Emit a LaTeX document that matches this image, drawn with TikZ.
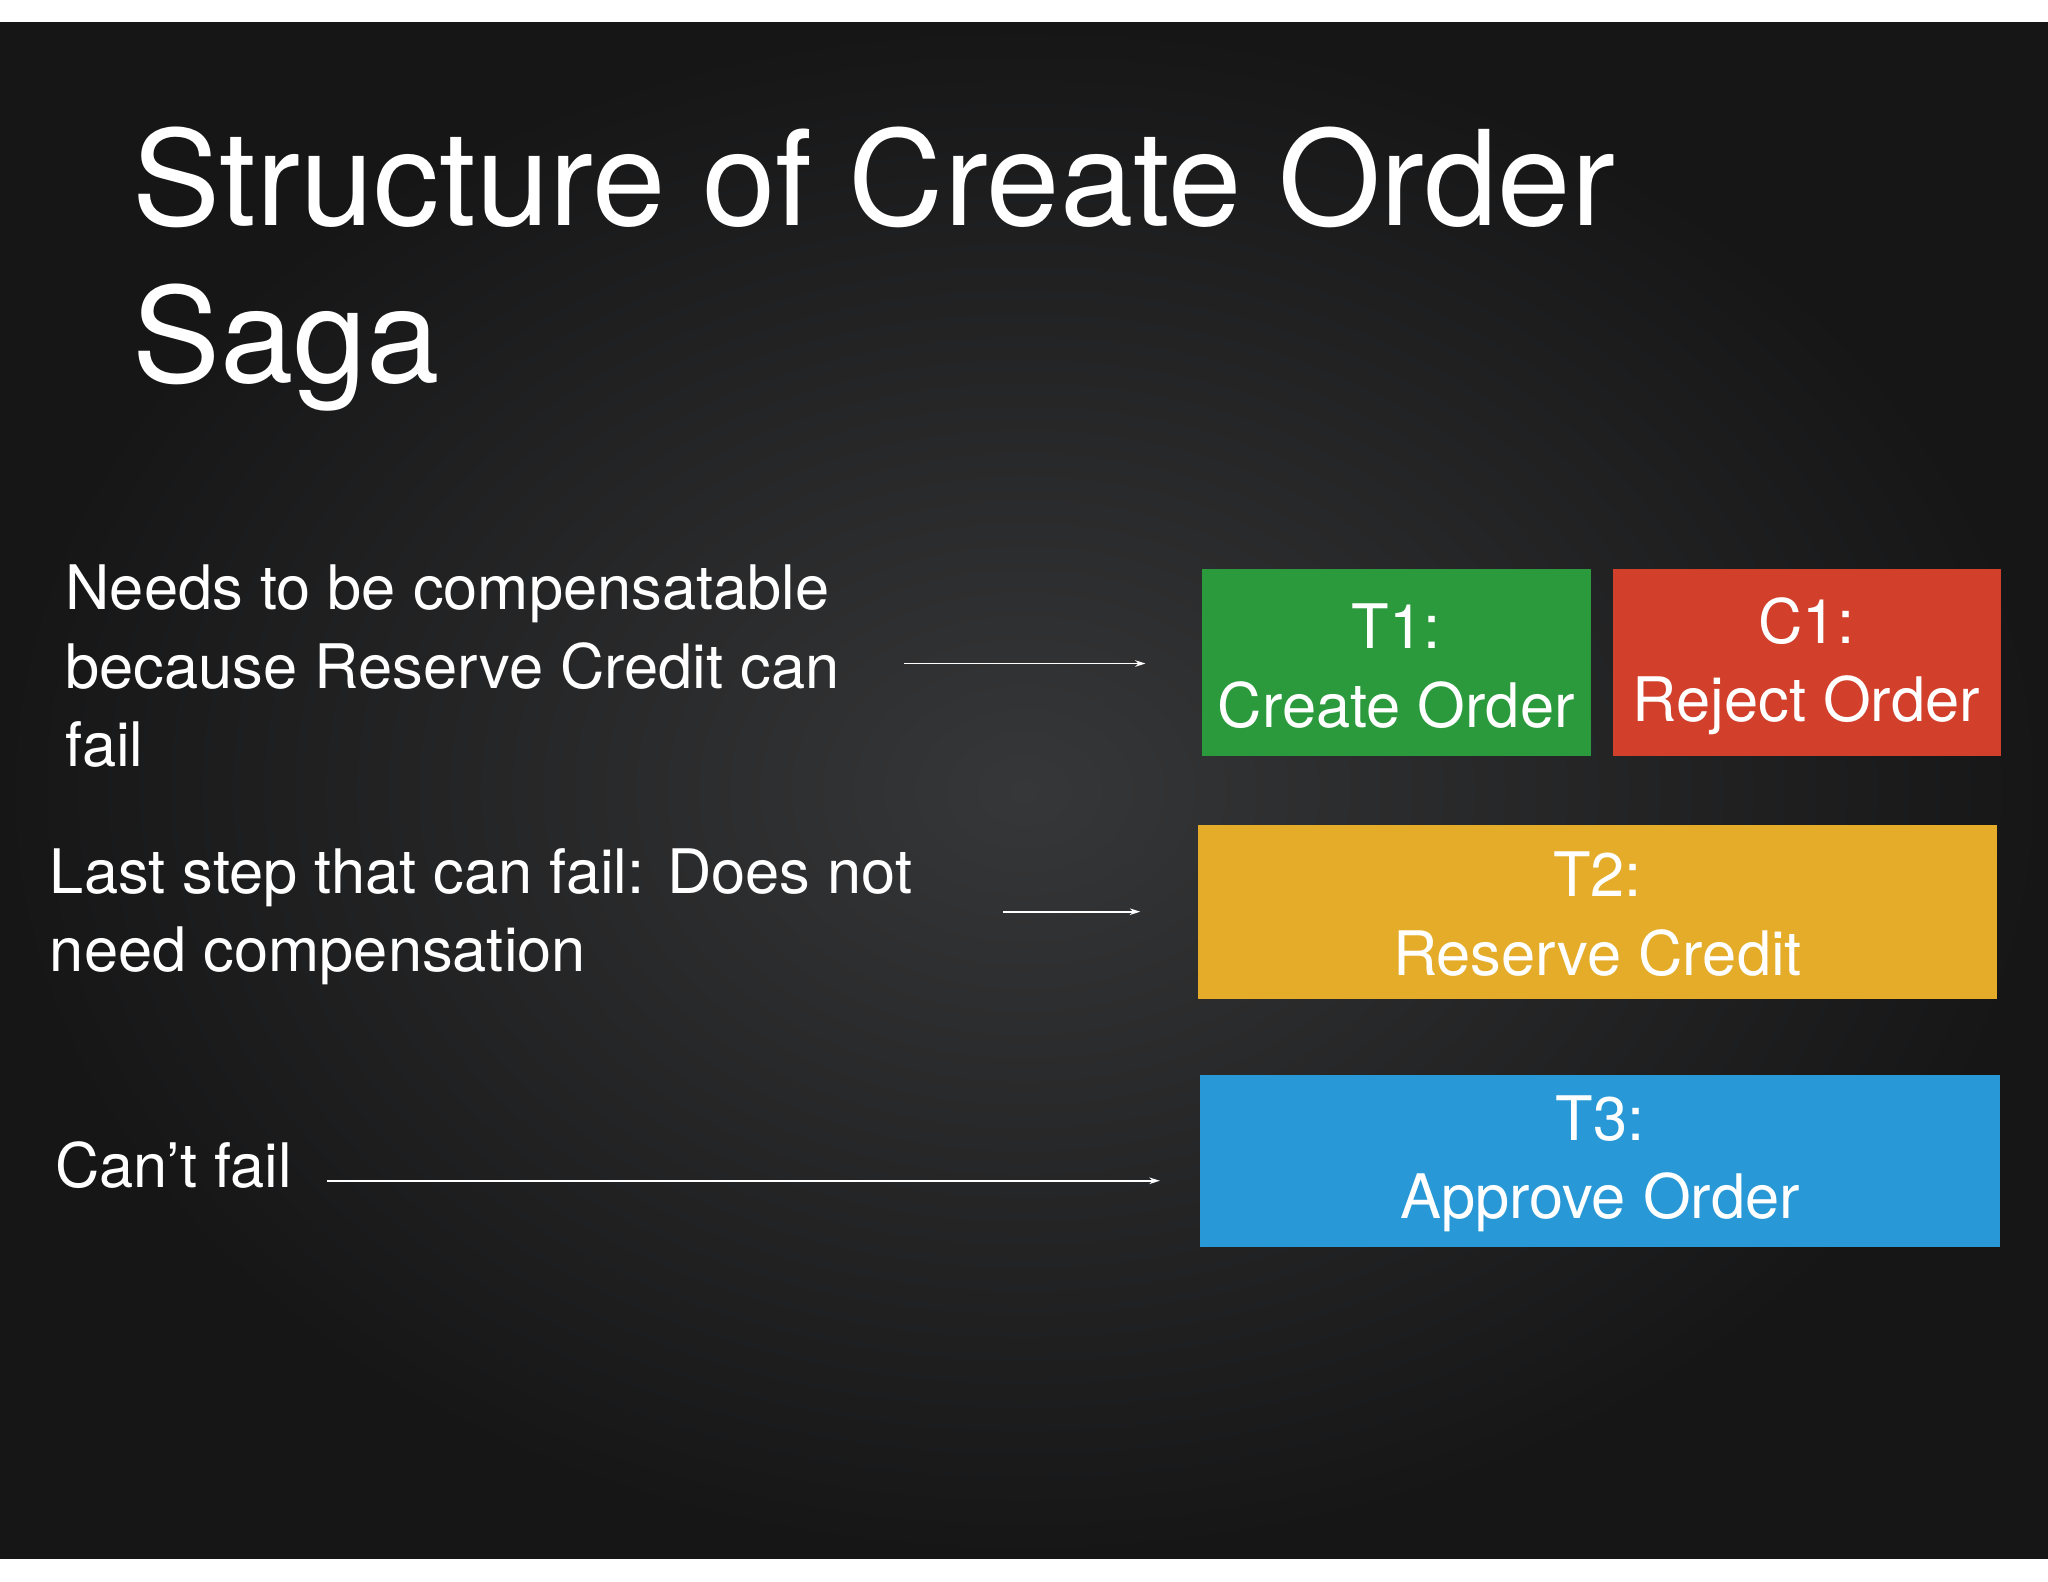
\documentclass[tikz,border=0pt]{standalone}
\usepackage{fontspec}
\setmainfont{TeX Gyre Heros}
\usetikzlibrary{arrows.meta}
\definecolor{bgin}{HTML}{363738}
\definecolor{bgout}{HTML}{161617}
\definecolor{cgreen}{HTML}{2A9A3C}
\definecolor{cred}{HTML}{D2402C}
\definecolor{cyellow}{HTML}{E4AC28}
\definecolor{cblue}{HTML}{2899D6}
\tikzset{
  box/.style={draw=none, minimum height=#1, text=white, font=\fontsize{47}{60}\selectfont, align=center, inner sep=0pt},
  lbl/.style={text=white, font=\fontsize{47}{60}\selectfont, align=left, anchor=west, inner sep=0pt},
  conn/.style={draw=white, line width=1.3pt, -{Stealth[length=8pt,width=5pt]}}
}
\begin{document}
\begin{tikzpicture}[x=1pt,y=-1pt]
\useasboundingbox (0,0) rectangle (1568,1211);
\fill[white] (0,0) rectangle (1568,1211);
\shade[inner color=bgin, outer color=bgout] (0,17) rectangle (1568,1193);
\node[text=white, font=\fontsize{101}{120}\selectfont, align=left, anchor=north west, inner sep=0pt] (title) at (101,97) {Structure of Create Order\\Saga};
\fill[cgreen] (920,436) rectangle (1218,579);
\node[box=143pt] (t1) at (1069,510) {T1:\\Create Order};
\fill[cred] (1235,436) rectangle (1532,579);
\node[box=143pt] (c1) at (1383,510) {C1:\\Reject Order};
\fill[cyellow] (917,632) rectangle (1529,765);
\node[box=133pt] (t2) at (1223,700) {T2:\\Reserve Credit};
\fill[cblue] (919,823) rectangle (1531,955);
\node[box=132pt] (t3) at (1225,891) {T3:\\Approve Order};
\node[lbl] (l1) at (50,510) {Needs to be compensatable\\because Reserve Credit can\\fail};
\node[lbl] (l2) at (38,702) {Last step that can fail: Does not\\need compensation};
\node[lbl] (l3) at (42,892) {Can’t fail};
\coordinate (a1s) at (692,508); \coordinate (a1e) at (877,508);
\coordinate (a2s) at (768,698); \coordinate (a2e) at (873,698);
\coordinate (a3s) at (250,904); \coordinate (a3e) at (888,904);
\draw[conn] (a1s) -- (a1e);
\draw[conn] (a2s) -- (a2e);
\draw[conn] (a3s) -- (a3e);
\end{tikzpicture}
\end{document}
